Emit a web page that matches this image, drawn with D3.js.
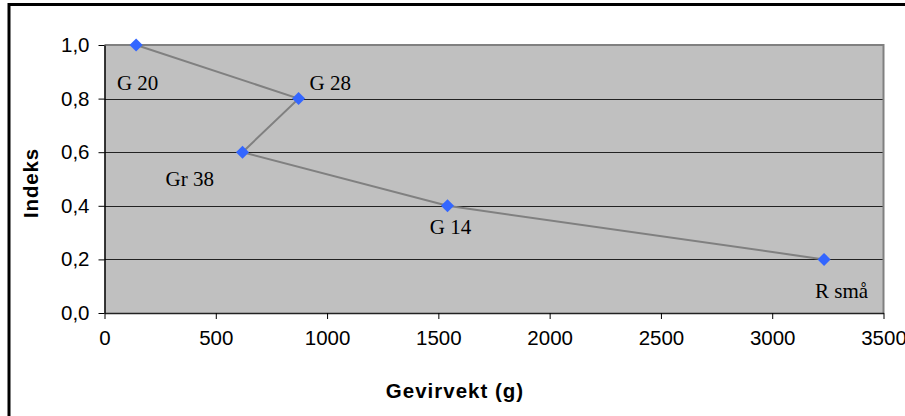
<!DOCTYPE html>
<html>
<head>
<meta charset="utf-8">
<script src="https://cdn.jsdelivr.net/npm/d3@7"></script>
<style>
  html, body { margin: 0; padding: 0; background: #fff; }
  svg { display: block; }
</style>
</head>
<body>
<svg id="chart" width="905" height="416"></svg>
<script>
// Antler weight vs. index per hunting area
const names   = ["G 20", "G 28", "Gr 38", "G 14", "R små"];
const weights = [142, 872, 620, 1541, 3233];
const indexes = [1.0, 0.8, 0.6, 0.4, 0.2];
const xTicks  = [0, 500, 1000, 1500, 2000, 2500, 3000, 3500];
const yTicks  = [0, 0.2, 0.4, 0.6, 0.8, 1.0];
const xTitle  = "Gevirvekt (g)";
const yTitle  = "Indeks";

// label placement around each marker: [dx, dy, anchor]
const labelPlacement = [
  [1.5, 45, "middle"],
  [11, -9, "start"],
  [-77, 34, "start"],
  [3, 28, "middle"],
  [-9, 39, "start"]
];

const svg = d3.select("#chart");
const plotL = 104.5, plotR = 883.5, plotT = 45, plotB = 313;

const x = d3.scaleLinear().domain([0, 3500]).range([plotL, plotR]);
const y = d3.scaleLinear().domain([0, 1]).range([plotB, plotT]);

// outer frame
svg.append("rect")
  .attr("x", 9).attr("y", 4.5)
  .attr("width", 1000).attr("height", 1000)
  .attr("fill", "none").attr("stroke", "#000").attr("stroke-width", 3);

// plot background
svg.append("rect")
  .attr("x", plotL).attr("y", plotT)
  .attr("width", plotR - plotL).attr("height", plotB - plotT)
  .attr("fill", "#C0C0C0");

// horizontal gridlines
svg.append("g").selectAll("line")
  .data(yTicks.filter(d => d > 0 && d < 1))
  .join("line")
  .attr("x1", plotL).attr("x2", plotR)
  .attr("y1", d => Math.round(y(d)) + 0.5).attr("y2", d => Math.round(y(d)) + 0.5)
  .attr("stroke", "#222").attr("stroke-width", 1);

// plot border (top and right)
svg.append("path")
  .attr("d", `M${plotL},${plotT} H${plotR} V${plotB}`)
  .attr("fill", "none").attr("stroke", "#808080").attr("stroke-width", 2);

const fmt = d => d3.format(".1f")(d).replace(".", ",");

// y axis
const yAxis = svg.append("g")
  .attr("transform", `translate(${plotL},0)`)
  .call(d3.axisLeft(y).tickValues(yTicks).tickFormat(fmt).tickSizeInner(6).tickSizeOuter(0).tickPadding(9));
yAxis.select(".domain").attr("stroke", "#000").attr("stroke-width", 1.5);
yAxis.selectAll(".tick line").attr("stroke", "#000");
yAxis.selectAll("text")
  .attr("font-family", "'Liberation Sans', Arial, sans-serif")
  .attr("font-size", 20.5).attr("fill", "#000");

// x axis
const xAxis = svg.append("g")
  .attr("transform", `translate(0,${plotB})`)
  .call(d3.axisBottom(x).tickValues(xTicks).tickFormat(d3.format("d")).tickSizeInner(6).tickSizeOuter(0).tickPadding(11));
xAxis.select(".domain").attr("stroke", "#222").attr("stroke-width", 1.5);
xAxis.selectAll(".tick line").attr("stroke", "#000");
xAxis.selectAll("text")
  .attr("font-family", "'Liberation Sans', Arial, sans-serif")
  .attr("font-size", 20.5).attr("fill", "#000");

// axis titles
svg.append("text")
  .attr("x", 455).attr("y", 398)
  .attr("text-anchor", "middle")
  .attr("font-family", "'Liberation Sans', Arial, sans-serif")
  .attr("font-weight", "bold").attr("font-size", 20.5)
  .attr("letter-spacing", 1)
  .text(xTitle);

svg.append("text")
  .attr("transform", "translate(38,183) rotate(-90)")
  .attr("text-anchor", "middle")
  .attr("font-family", "'Liberation Sans', Arial, sans-serif")
  .attr("font-weight", "bold").attr("font-size", 20.5)
  .attr("letter-spacing", 0.8)
  .text(yTitle);

// series
const pts = names.map((n, i) => ({ name: n, w: weights[i], v: indexes[i], i }));

svg.append("path")
  .datum(pts)
  .attr("d", d3.line().x(d => x(d.w)).y(d => y(d.v)))
  .attr("fill", "none").attr("stroke", "#808080").attr("stroke-width", 2);

svg.append("g").selectAll("path")
  .data(pts)
  .join("path")
  .attr("transform", d => `translate(${x(d.w)},${y(d.v)}) rotate(45)`)
  .attr("d", d3.symbol().type(d3.symbolSquare).size(85))
  .attr("fill", "#3366FF");

// data labels
svg.append("g").selectAll("text")
  .data(pts)
  .join("text")
  .attr("x", d => x(d.w) + labelPlacement[d.i][0])
  .attr("y", d => y(d.v) + labelPlacement[d.i][1])
  .attr("text-anchor", d => labelPlacement[d.i][2])
  .attr("font-family", "'Liberation Serif', 'Times New Roman', serif")
  .attr("font-size", 21).attr("fill", "#000")
  .text(d => d.name);
</script>
</body>
</html>
